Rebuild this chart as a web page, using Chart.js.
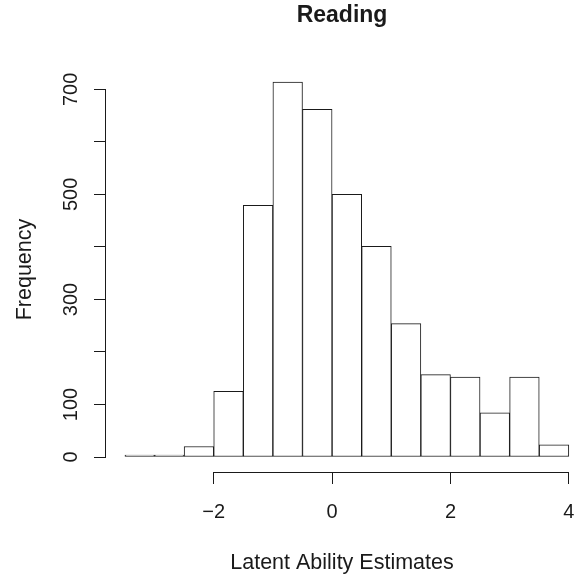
<!DOCTYPE html>
<html>
<head>
<meta charset="utf-8">
<title>Reading</title>
<script src="https://cdn.jsdelivr.net/npm/chart.js@4/dist/chart.umd.min.js"></script>
<style>
  html, body { margin: 0; padding: 0; background: #ffffff; overflow: hidden; }
  #wrap { width: 578px; height: 579px; position: relative; }
</style>
</head>
<body>
<div id="wrap"><canvas id="hist" width="578" height="579"></canvas></div>
<script>
// Histogram of latent ability estimates (bins of width 0.5)
const binCenters = [-3.25, -2.75, -2.25, -1.75, -1.25, -0.75, -0.25, 0.25, 0.75, 1.25, 1.75, 2.25, 2.75, 3.25, 3.75];
const frequencies = [1, 3, 20, 125, 479, 714, 662, 500, 401, 254, 157, 152, 84, 152, 23];
const xTicks = [-2, 0, 2, 4];
const yTicks = [0, 100, 200, 300, 400, 500, 600, 700];
const yLabelled = [0, 100, 300, 500, 700];

const ink = '#1a1a1a';
const family = '"Liberation Sans", Arial, Helvetica, sans-serif';

// R-style axis lines that only span from the first to the last tick
const axisLines = {
  id: 'axisLines',
  afterDraw(chart) {
    const { ctx, scales: { x, y }, chartArea } = chart;
    ctx.save();
    ctx.strokeStyle = ink;
    ctx.lineWidth = 1;
    const yb = Math.round(chartArea.bottom) + 0.5;
    ctx.beginPath();
    ctx.moveTo(x.getPixelForValue(xTicks[0]), yb);
    ctx.lineTo(x.getPixelForValue(xTicks[xTicks.length - 1]), yb);
    ctx.stroke();
    const xl = Math.round(chartArea.left) - 0.5;
    ctx.beginPath();
    ctx.moveTo(xl, y.getPixelForValue(yTicks[0]));
    ctx.lineTo(xl, y.getPixelForValue(yTicks[yTicks.length - 1]));
    ctx.stroke();
    ctx.restore();
  }
};

new Chart(document.getElementById('hist'), {
  type: 'bar',
  data: {
    datasets: [{
      data: binCenters.map((c, i) => ({ x: c, y: frequencies[i] })),
      backgroundColor: '#ffffff',
      borderColor: ink,
      borderWidth: 1,
      borderSkipped: false,
      minBarLength: 2,
      barPercentage: 1,
      categoryPercentage: 1
    }]
  },
  options: {
    responsive: false,
    animation: false,
    devicePixelRatio: 1,
    layout: { padding: 0 },
    plugins: {
      legend: { display: false },
      tooltip: { enabled: false },
      title: {
        display: true,
        text: 'Reading',
        fullSize: false,
        color: ink,
        font: { family, size: 23, weight: 'bold' },
        padding: { top: 2, bottom: 37.4 }
      }
    },
    scales: {
      x: {
        type: 'linear',
        offset: false,
        min: -3.82,
        max: 4.155,
        afterBuildTicks: s => { s.ticks = xTicks.map(v => ({ value: v })); },
        afterFit: s => { s.height = 107; s.paddingLeft = 0; s.paddingRight = 0; },
        border: { display: false },
        grid: { offset: false, drawOnChartArea: false, tickLength: 12, tickColor: ink, color: ink, lineWidth: 1 },
        ticks: {
          autoSkip: false,
          maxRotation: 0,
          color: ink,
          padding: 16,
          font: { family, size: 20 },
          callback: v => (v < 0 ? '\u2212' + Math.abs(v) : String(v))
        },
        title: {
          display: true,
          text: 'Latent Ability Estimates',
          color: ink,
          font: { family, size: 21.5 },
          padding: { top: 0, bottom: 3 }
        }
      },
      y: {
        type: 'linear',
        min: -28.56,
        max: 742.6,
        afterBuildTicks: s => { s.ticks = yTicks.map(v => ({ value: v })); },
        afterFit: s => { s.width = 106; s.paddingTop = 0; s.paddingBottom = 0; },
        border: { display: false },
        grid: { drawOnChartArea: false, tickLength: 12, tickColor: ink, color: ink, lineWidth: 1 },
        ticks: {
          autoSkip: false,
          minRotation: 90,
          maxRotation: 90,
          crossAlign: 'center',
          padding: 6,
          color: ink,
          font: { family, size: 20 },
          callback: v => (yLabelled.includes(v) ? String(v) : '')
        },
        title: {
          display: true,
          text: 'Frequency',
          color: ink,
          font: { family, size: 21.5 },
          padding: { top: 12, bottom: 0 }
        }
      }
    }
  },
  plugins: [axisLines]
});
</script>
</body>
</html>
